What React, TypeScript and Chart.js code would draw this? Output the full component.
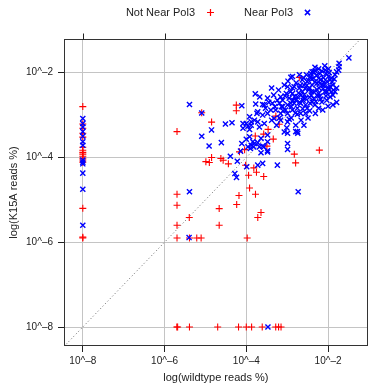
import { useEffect, useRef } from "react";
import { Chart, registerables } from "chart.js";

Chart.register(...registerables);

const FONT = '"Liberation Sans", Arial, Helvetica, sans-serif';

const seriesNames = ["Not Near Pol3", "Near Pol3"];
const xTitle = "log(wildtype reads %)";
const yTitle = "log(K15A reads %)";
const tickExponents = [-8, -6, -4, -2];
const tickLabels = ["10^–8", "10^–6", "10^–4", "10^–2"];
const xRangeLog = [-8.46, -1.032];
const yRangeLog = [-8.448, -1.205];
const diagonalLog = [-9, -1];

// [log10(wildtype reads %), log10(K15A reads %)]
const notNearPol3Log: [number, number][] = [
  [-4.244, -2.764], [-4.244, -2.898], [-4.849, -3.166], [-5.695, -3.39], [-5.091, -2.946],
  [-3.195, -3.218], [-3.277, -3.024], [-3.78, -3.492], [-3.574, -3.449], [-3.466, -3.338],
  [-3.34, -3.567], [-3.495, -3.733], [-4.041, -3.816], [-4.167, -3.868], [-2.825, -3.922],
  [-2.793, -4.128], [-2.213, -3.827], [-2.704, -2.113], [-4.849, -4.0], [-4.989, -4.099],
  [-4.904, -4.118], [-4.622, -4.024], [-4.566, -4.064], [-4.438, -4.151], [-4.017, -4.182],
  [-3.816, -4.246], [-3.751, -4.348], [-3.944, -4.418], [-3.574, -4.449], [-3.92, -4.719],
  [-3.775, -4.868], [-4.179, -4.898], [-4.235, -5.111], [-3.64, -5.3], [-3.719, -5.418],
  [-4.663, -5.206], [-4.663, -5.6], [-5.395, -5.418], [-5.695, -4.868], [-5.695, -5.128],
  [-5.695, -5.6],
  [-5.695, -5.9], [-5.39, -5.9], [-5.212, -5.9], [-5.105, -5.9], [-3.978, -5.9],
  [-5.7, -8], [-5.68, -8], [-5.39, -8], [-4.7, -8], [-4.19, -8], [-4.0, -8], [-3.87, -8],
  [-3.61, -8], [-3.28, -8], [-3.21, -8], [-3.15, -8],
  [-8, -2.8], [-8, -3.21], [-8, -3.31], [-8, -3.43], [-8, -3.52], [-8, -3.76], [-8, -3.83],
  [-8, -3.88], [-8, -3.92], [-8, -3.97], [-8, -4.02], [-8, -4.06], [-8, -4.11], [-8, -5.2],
  [-8, -5.9], [-8, -5.88],
];

const nearPol3Log: [number, number][] = [
  [-8, -3.08], [-8, -3.2], [-8, -3.28], [-8, -3.39], [-8, -3.5], [-8, -3.63], [-8, -3.71],
  [-8, -4.06], [-8, -4.11], [-8, -4.15], [-8, -4.37], [-8, -4.75], [-8, -5.6],
  [-3.47, -8],
  [-5.39, -2.75], [-5.09, -2.95], [-4.11, -2.78], [-4.51, -3.21], [-4.35, -3.18], [-4.85, -3.35],
  [-5.09, -3.5], [-4.91, -3.73], [-4.61, -3.65],
  [-4.08, -3.2], [-4.0, -3.2], [-3.96, -3.26], [-3.92, -3.34], [-4.08, -3.31], [-3.88, -3.16],
  [-3.74, -2.96], [-3.8, -3.12],
  [-4.0, -3.57], [-4.11, -3.67], [-4.14, -3.85], [-3.88, -3.71], [-3.8, -3.67], [-4.39, -3.97],
  [-4.22, -4.09], [-3.99, -4.22], [-3.72, -4.18],
  [-3.9, -3.79], [-3.82, -3.75], [-3.68, -3.75], [-3.57, -3.75], [-3.48, -3.84], [-3.72, -3.65],
  [-3.6, -4.14], [-3.24, -4.18],
  [-2.99, -3.67], [-2.99, -3.81], [-2.99, -3.43], [-2.79, -3.39], [-2.74, -3.43], [-4.28, -4.38],
  [-4.24, -4.47], [-5.39, -4.81], [-2.73, -4.81], [-5.4, -5.89],
  [-3.78, -2.5], [-2.91, -2.11], [-1.49, -1.65], [-1.73, -1.78], [-1.73, -1.86], [-1.74, -1.94],
  [-1.99, -1.91], [-2.07, -1.94], [-2.15, -1.96], [-2.23, -1.91], [-2.31, -1.96], [-2.39, -1.98],
  [-3.07, -2.29], [-2.99, -2.33], [-2.43, -2.09], [-2.35, -2.13], [-2.23, -2.13], [-2.11, -2.12],
  [-1.99, -2.09], [-1.91, -2.13], [-1.83, -2.05],
  [-2.51, -2.21], [-2.59, -2.29], [-2.39, -2.29], [-2.27, -2.25], [-2.15, -2.29], [-2.03, -2.21],
  [-1.95, -2.33],
  [-2.63, -2.45], [-2.47, -2.41], [-2.35, -2.45], [-2.23, -2.49], [-2.03, -2.45], [-1.83, -2.45],
  [-2.75, -2.57], [-2.55, -2.61], [-2.35, -2.61], [-2.15, -2.69], [-1.79, -2.7], [-2.87, -2.49],
  [-2.79, -2.65], [-3.16, -2.57], [-3.24, -2.65], [-3.36, -2.72], [-3.6, -2.75], [-2.91, -2.72],
  [-2.67, -2.72],
  [-3.56, -2.76], [-3.19, -2.72], [-3.11, -2.8], [-2.99, -2.76], [-2.83, -2.72], [-2.55, -2.76],
  [-2.39, -2.69],
  [-3.72, -2.92], [-3.6, -3.0], [-3.48, -2.96], [-3.28, -2.88], [-3.16, -2.96], [-2.99, -2.96],
  [-2.87, -2.88], [-2.75, -2.84], [-2.67, -2.96], [-2.55, -2.96], [-2.31, -2.96], [-2.23, -2.84],
  [-3.92, -3.04], [-3.72, -3.16], [-3.56, -3.2], [-3.88, -3.24], [-3.68, -3.28], [-3.32, -3.08],
  [-3.16, -3.12], [-2.99, -3.16], [-2.79, -3.24], [-2.59, -3.24], [-2.75, -3.39], [-3.01, -3.3],
  [-3.92, -3.51], [-3.84, -3.63], [-3.64, -3.55], [-3.48, -3.47], [-3.48, -3.63], [-3.6, -3.73],
  [-3.48, -3.87], [-3.96, -3.75], [-3.64, -3.89],
  [-2.63, -2.17], [-2.53, -2.05], [-2.46, -2.36], [-2.32, -2.22], [-2.22, -2.36], [-2.1, -2.22],
  [-2.2, -2.55], [-2.41, -2.53], [-2.61, -2.65], [-2.7, -2.36], [-2.78, -2.24], [-2.87, -2.36],
  [-2.82, -2.57], [-2.51, -2.84], [-2.44, -2.72], [-2.32, -2.76], [-2.08, -2.45], [-1.95, -2.17],
  [-1.88, -2.29], [-1.79, -2.36], [-1.88, -2.53], [-2.03, -2.65], [-2.66, -2.53], [-2.95, -2.6],
  [-3.04, -2.88], [-3.19, -3.07], [-3.38, -3.12], [-3.26, -3.24], [-3.07, -3.4], [-2.9, -3.07],
  [-2.66, -3.12], [-2.49, -3.07], [-2.75, -2.98], [-3.11, -2.65], [-3.33, -2.53], [-3.48, -2.6],
  [-3.53, -2.84], [-3.77, -2.74], [-3.38, -2.36], [-3.21, -2.41], [-3.67, -2.57], [-2.13, -2.88],
  [-2.0, -2.79], [-1.88, -2.76], [-2.08, -1.84], [-2.32, -1.87], [-1.79, -1.98], [-1.87, -2.41],
  [-1.95, -2.57], [-3.02, -2.49], [-3.14, -2.8], [-3.4, -2.88], [-2.83, -2.33], [-2.87, -2.09],
  [-2.35, -1.98], [-2.19, -2.02],
  [-2.7, -2.05], [-2.6, -2.12], [-2.48, -2.18], [-2.42, -2.02], [-2.28, -2.06], [-2.18, -2.16],
  [-2.05, -2.02], [-1.97, -2.0], [-1.9, -2.22], [-1.85, -2.15], [-2.12, -2.38], [-2.27, -2.4],
  [-2.4, -2.45], [-2.56, -2.38], [-2.68, -2.3], [-2.72, -2.48], [-2.58, -2.52], [-2.45, -2.58],
  [-2.3, -2.68], [-2.18, -2.62], [-2.05, -2.55], [-1.98, -2.4], [-2.92, -2.45], [-2.98, -2.2],
  [-3.05, -2.55], [-2.62, -2.85], [-2.45, -2.9], [-2.86, -2.65], [-2.7, -2.7], [-2.9, -2.8],
  [-3.3, -2.8], [-3.45, -2.7], [-2.4, -2.15], [-2.52, -2.3], [-2.2, -2.25], [-2.1, -2.3],
  [-2.0, -2.35], [-1.92, -2.45], [-2.25, -2.55], [-2.6, -2.6], [-2.8, -2.95], [-3.1, -2.9],
  [-2.95, -3.1],
];

const RED = "#ff0000";
const BLUE = "#0000ff";

const toPoints = (arr: [number, number][]) =>
  arr.map(([lx, ly]) => ({ x: Math.pow(10, lx), y: Math.pow(10, ly) }));

const decorPlugin = {
  id: "decor",
  afterDraw(chart: any) {
    const { ctx, chartArea: a, scales } = chart;
    ctx.save();
    // frame
    ctx.strokeStyle = "#333";
    ctx.lineWidth = 1;
    const l = Math.round(a.left) + 0.5;
    const r = Math.round(a.right) - 0.5;
    const t = Math.round(a.top) + 0.5;
    const b = Math.round(a.bottom) - 0.5;
    ctx.strokeRect(l, t, r - l, b - t);
    // mirrored top ticks
    ctx.strokeStyle = "#222";
    tickExponents.forEach((e) => {
      const px = Math.round(scales.x.getPixelForValue(Math.pow(10, e))) + 0.5;
      ctx.beginPath();
      ctx.moveTo(px, t - 6);
      ctx.lineTo(px, t);
      ctx.stroke();
    });
    // axis titles
    ctx.fillStyle = "#222";
    ctx.font = `11px ${FONT}`;
    ctx.textAlign = "center";
    ctx.textBaseline = "middle";
    ctx.fillText(xTitle, (a.left + a.right) / 2, 378);
    ctx.save();
    ctx.translate(14, (a.top + a.bottom) / 2);
    ctx.rotate(-Math.PI / 2);
    ctx.fillText(yTitle, 0, 0);
    ctx.restore();
    // legend (text then symbol)
    const ly = 12.5;
    ctx.textAlign = "right";
    ctx.fillText(seriesNames[0], 195, ly);
    ctx.fillText(seriesNames[1], 293, ly);
    ctx.lineWidth = 1.2;
    ctx.strokeStyle = RED;
    ctx.beginPath();
    ctx.moveTo(210.5 - 3.5, ly);
    ctx.lineTo(210.5 + 3.5, ly);
    ctx.moveTo(210.5, ly - 3.5);
    ctx.lineTo(210.5, ly + 3.5);
    ctx.stroke();
    ctx.lineWidth = 1.5;
    ctx.strokeStyle = BLUE;
    const bx = 307.5;
    const d = 2.6;
    ctx.beginPath();
    ctx.moveTo(bx - d, ly - d);
    ctx.lineTo(bx + d, ly + d);
    ctx.moveTo(bx - d, ly + d);
    ctx.lineTo(bx + d, ly - d);
    ctx.stroke();
    ctx.restore();
  },
};

export default function App() {
  const ref = useRef<HTMLCanvasElement | null>(null);

  useEffect(() => {
    if (!ref.current) return;
    Chart.defaults.font.family = FONT;
    const tickVals = tickExponents.map((e) => Math.pow(10, e));
    const chart = new Chart(ref.current, {
      type: "scatter",
      data: {
        datasets: [
          {
            label: seriesNames[1],
            data: toPoints(nearPol3Log),
            pointStyle: "crossRot",
            pointRadius: 3.6,
            borderColor: BLUE,
            backgroundColor: BLUE,
            borderWidth: 1.4,
            order: 0,
          },
          {
            label: seriesNames[0],
            data: toPoints(notNearPol3Log),
            pointStyle: "cross",
            pointRadius: 3.5,
            borderColor: RED,
            backgroundColor: RED,
            borderWidth: 1.1,
            order: 1,
          },
          {
            type: "line",
            label: "y = x",
            data: diagonalLog.map((v) => ({ x: Math.pow(10, v), y: Math.pow(10, v) })),
            borderColor: "#666",
            borderWidth: 1,
            borderDash: [1, 2.5],
            pointRadius: 0,
            showLine: true,
            order: 2,
          },
        ] as any,
      },
      options: {
        responsive: false,
        animation: false,
        devicePixelRatio: 1,
        events: [],
        layout: { padding: { top: 39, right: 2, left: 0, bottom: 0 } },
        plugins: { legend: { display: false }, tooltip: { enabled: false } },
        scales: {
          x: {
            type: "logarithmic",
            min: Math.pow(10, xRangeLog[0]),
            max: Math.pow(10, xRangeLog[1]),
            afterBuildTicks: (s: any) => {
              s.ticks = tickVals.map((v) => ({ value: v }));
            },
            afterFit: (s: any) => {
              s.height = 38;
            },
            ticks: {
              callback: (_v: any, i: number) => tickLabels[i],
              autoSkip: false,
              maxRotation: 0,
              padding: 3,
              color: "#222",
              font: { size: 10, family: FONT },
            },
            grid: { color: "#c4c4c4", lineWidth: 1, tickLength: 6, tickColor: "#222" },
            border: { display: false },
          },
          y: {
            type: "logarithmic",
            min: Math.pow(10, yRangeLog[0]),
            max: Math.pow(10, yRangeLog[1]),
            afterBuildTicks: (s: any) => {
              s.ticks = tickVals.map((v) => ({ value: v }));
            },
            afterFit: (s: any) => {
              s.width = 64;
            },
            ticks: {
              callback: (_v: any, i: number) => tickLabels[i],
              autoSkip: false,
              padding: 5,
              color: "#222",
              font: { size: 10, family: FONT },
            },
            grid: { color: "#c4c4c4", lineWidth: 1, tickLength: 6, tickColor: "#222" },
            border: { display: false },
          },
        },
      } as any,
      plugins: [decorPlugin],
    });
    return () => chart.destroy();
  }, []);

  return (
    <div style={{ position: "fixed", left: 0, top: 0, width: 373, height: 384, background: "#fff" }}>
      <canvas ref={ref} width={373} height={384} style={{ display: "block" }} />
    </div>
  );
}
